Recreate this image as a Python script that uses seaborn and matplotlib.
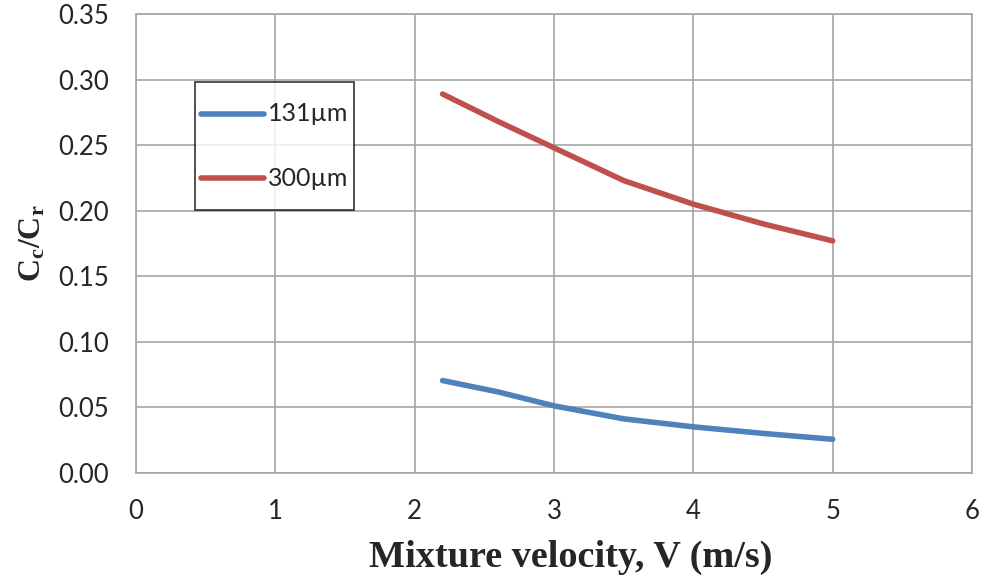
import matplotlib
matplotlib.use("Agg")
import matplotlib.pyplot as plt
import seaborn as sns
import pandas as pd

# Mixture velocity (m/s) and concentration ratio Cc/Cr for two particle sizes
velocity = [2.2, 2.6, 3.0, 3.5, 4.0, 4.5, 5.0]
ratio_131 = [0.0705, 0.0618, 0.0512, 0.0413, 0.0352, 0.0302, 0.0257]
ratio_300 = [0.2890, 0.2680, 0.2480, 0.2230, 0.2050, 0.1900, 0.1770]
series_labels = ["131µm", "300µm"]
series_colors = ["#4F81BD", "#C0504D"]

x_ticks = [0, 1, 2, 3, 4, 5, 6]
y_ticks = [0.00, 0.05, 0.10, 0.15, 0.20, 0.25, 0.30, 0.35]

df = pd.DataFrame({
    "V": velocity * 2,
    "ratio": ratio_131 + ratio_300,
    "size": [series_labels[0]] * len(velocity) + [series_labels[1]] * len(velocity),
})

sns.set_theme(style="white")
plt.rcParams["font.family"] = ["Lato", "DejaVu Sans"]
plt.rcParams["mathtext.fontset"] = "custom"
plt.rcParams["mathtext.rm"] = "Liberation Serif:bold"
plt.rcParams["mathtext.it"] = "Liberation Serif:bold"
plt.rcParams["mathtext.bf"] = "Liberation Serif:bold"

fig = plt.figure(figsize=(9.81, 5.77), dpi=100)
ax = fig.add_axes([136 / 981, 1 - 473 / 577, (972 - 136) / 981, (473 - 14) / 577])

sns.lineplot(data=df, x="V", y="ratio", hue="size", palette=series_colors,
             linewidth=4.0, ax=ax, sort=True, estimator=None)
for ln in ax.get_lines():
    ln.set_solid_capstyle("round")
    ln.set_solid_joinstyle("round")

grid_color = "#A6A6A6"
ax.set_xlim(0, 6)
ax.set_ylim(0, 0.35)
ax.set_xticks(x_ticks)
ax.set_yticks(y_ticks)
ax.set_xticklabels([str(t) for t in x_ticks])
ax.set_yticklabels([f"{t:.2f}" for t in y_ticks])
ax.grid(True, color=grid_color, linewidth=1.2)
ax.set_axisbelow(True)
for s in ax.spines.values():
    s.set_color(grid_color)
    s.set_linewidth(1.2)
ax.tick_params(axis="both", which="major", direction="out", length=7.5,
               width=1.2, color=grid_color, labelsize=18.5, labelcolor="#262626")
ax.tick_params(axis="x", pad=11)
ax.tick_params(axis="y", pad=12)

ax.set_xlabel("Mixture velocity, V (m/s)", family="Liberation Serif",
              fontweight="bold", fontsize=27.5)
ax.xaxis.set_label_coords(0.52, -0.146)
ax.set_ylabel(r"$\mathrm{C_c/C_r}$", fontsize=23)
ax.yaxis.set_label_coords(-0.106, 0.5)

leg = ax.legend(loc="upper left", bbox_to_anchor=(59 / 836, (473 - 82) / 459),
                frameon=True, fancybox=False, shadow=False, fontsize=18,
                handlelength=2.5, handleheight=2.75, handletextpad=0.15,
                labelspacing=0.55, borderpad=0.25, borderaxespad=0.0, title=None)
leg.get_frame().set_edgecolor("black")
leg.get_frame().set_linewidth(1.2)
for h in leg.get_lines():
    h.set_linewidth(4.0)
    h.set_solid_capstyle("round")
    # lower the sample line so it sits level with its label text
    h.set_ydata([y - 6.5 for y in h.get_ydata()])

fig.savefig("out.png", dpi=100)
